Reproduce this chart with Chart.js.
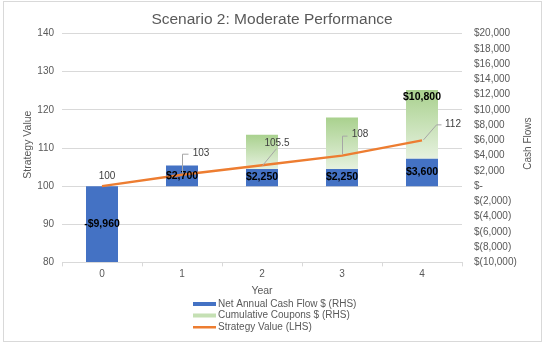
<!DOCTYPE html>
<html>
<head>
<meta charset="utf-8">
<script src="https://cdn.jsdelivr.net/npm/chart.js@4"></script>
<style>
  html, body { margin: 0; padding: 0; background: #fff; }
  #wrap { width: 544px; height: 345px; position: relative; }
</style>
</head>
<body>
<div id="wrap"><canvas id="grafico"></canvas></div>
<script>
// dados do gráfico
const years = ['0', '1', '2', '3', '4'];
const netCashFlow = [-9960, 2700, 2250, 2250, 3600];
const cumulativeCoupons = [0, 0, 4500, 6750, 9000];
const strategyValue = [100, 103, 105.5, 108, 112];
const couponLabels = ['', '', '', '', '$10,800'];
const leftTicks = [80, 90, 100, 110, 120, 130, 140];
const rightTicks = [-10000, -8000, -6000, -4000, -2000, 0, 2000, 4000, 6000, 8000, 10000, 12000, 14000, 16000, 18000, 20000];
const legendItems = ['Net Annual Cash Flow $ (RHS)', 'Cumulative Coupons $ (RHS)', 'Strategy Value (LHS)'];

const FONT = '"Liberation Sans", Arial, sans-serif';
const GREY = '#595959';

function fmtAxis(v) {
    if (v === 0) return '$-';
    const s = Math.abs(v).toLocaleString('en-US');
    return v < 0 ? '$(' + s + ')' : '$' + s;
}
function fmtBar(v) {
    const s = Math.abs(v).toLocaleString('en-US');
    return (v < 0 ? '-$' : '$') + s;
}

// posição dos rótulos da linha (relativo ao ponto) e linhas-guia
const lineLabelPos = [
    { dx: 5, dy: -10, leader: null },
    { dx: 19, dy: -21, leader: [[0, -2], [0, -21], [6, -21]] },
    { dx: 15, dy: -22, leader: [[0, 0], [14, -17]] },
    { dx: 18, dy: -21, leader: [[0, -2], [0, -20], [5, -20]] },
    { dx: 31, dy: -16, leader: [[1, -1], [14, -16], [19, -16]] }
];

const extras = {
    id: 'extras',
    beforeDraw(chart) {
        const c = chart.ctx;
        c.save();
        c.fillStyle = '#fff';
        c.fillRect(0, 0, chart.width, chart.height);
        c.strokeStyle = '#d9d9d9';
        c.lineWidth = 1;
        c.strokeRect(3.5, 1.5, 538, 340);
        c.restore();
    },
    afterDatasetsDraw(chart) {
        const c = chart.ctx;
        c.save();
        c.textAlign = 'center';
        c.textBaseline = 'middle';

        // rótulos das barras azuis
        const blue = chart.getDatasetMeta(0);
        c.font = 'bold 10.5px ' + FONT;
        c.fillStyle = '#000';
        blue.data.forEach((bar, i) => {
            c.fillText(fmtBar(netCashFlow[i]), bar.x, (bar.y + bar.base) / 2);
        });

        // rótulos das barras verdes
        const green = chart.getDatasetMeta(1);
        green.data.forEach((bar, i) => {
            if (couponLabels[i]) c.fillText(couponLabels[i], bar.x, bar.y + 7);
        });

        // rótulos da linha
        const line = chart.getDatasetMeta(2);
        c.font = '10px ' + FONT;
        line.data.forEach((pt, i) => {
            const p = lineLabelPos[i];
            if (p.leader) {
                c.strokeStyle = '#a6a6a6';
                c.lineWidth = 1;
                c.beginPath();
                p.leader.forEach((o, k) => {
                    const x = pt.x + o[0] + 0.5, y = pt.y + o[1] + 0.5;
                    if (k === 0) c.moveTo(x, y); else c.lineTo(x, y);
                });
                c.stroke();
            }
            c.fillStyle = '#404040';
            c.fillText(String(strategyValue[i]), pt.x + p.dx, pt.y + p.dy);
        });
        c.restore();
    },
    afterDraw(chart) {
        const c = chart.ctx;
        const a = chart.chartArea;
        c.save();
        c.fillStyle = GREY;
        c.textBaseline = 'middle';
        c.textAlign = 'center';

        // títulos dos eixos verticais (ambos lidos de baixo para cima)
        c.font = '10.5px ' + FONT;
        c.save();
        c.translate(28, a.top + 111);
        c.rotate(-Math.PI / 2);
        c.fillText('Strategy Value', 0, 0);
        c.restore();
        c.font = '10px ' + FONT;
        c.save();
        c.translate(528, a.top + 110);
        c.rotate(-Math.PI / 2);
        c.fillText('Cash Flows', 0, 0);
        c.restore();

        // legenda vertical
        const x0 = 193, y0 = 304, step = 11.5;
        c.textAlign = 'left';
        legendItems.forEach((txt, i) => {
            const y = y0 + i * step;
            if (i === 0) { c.fillStyle = '#4472C4'; c.fillRect(x0, y - 2, 23, 4); }
            if (i === 1) { c.fillStyle = '#c5e0b4'; c.fillRect(x0, y - 2, 23, 4); }
            if (i === 2) { c.fillStyle = '#ED7D31'; c.fillRect(x0, y - 1, 23, 2.5); }
            c.fillStyle = GREY;
            c.fillText(txt, x0 + 25, y);
        });
        c.restore();
    }
};

function greenFill(ctx) {
    const chart = ctx.chart;
    if (!chart.chartArea || ctx.type !== 'data') return '#c5e0b4';
    const y1 = chart.scales.y1;
    const i = ctx.dataIndex;
    const base = Math.max(0, netCashFlow[i]);
    const top = y1.getPixelForValue(base + cumulativeCoupons[i]);
    const bottom = y1.getPixelForValue(base);
    const g = chart.ctx.createLinearGradient(0, top, 0, bottom + 0.01);
    g.addColorStop(0, '#a9d18e');
    g.addColorStop(1, '#e6f1df');
    return g;
}

new Chart(document.getElementById('grafico'), {
    type: 'bar',
    data: {
        labels: years,
        datasets: [
            {
                label: legendItems[0],
                data: netCashFlow,
                backgroundColor: '#4472C4',
                yAxisID: 'y1',
                order: 2,
                barPercentage: 0.4,
                categoryPercentage: 1
            },
            {
                label: legendItems[1],
                data: cumulativeCoupons,
                backgroundColor: greenFill,
                yAxisID: 'y1',
                order: 3,
                barPercentage: 0.4,
                categoryPercentage: 1
            },
            {
                type: 'line',
                label: legendItems[2],
                data: strategyValue,
                borderColor: '#ED7D31',
                borderWidth: 2.5,
                pointRadius: 0,
                tension: 0,
                yAxisID: 'y',
                order: 1
            }
        ]
    },
    options: {
        responsive: true,
        maintainAspectRatio: false,
        animation: false,
        layout: { padding: { left: 21, right: 21, top: 0, bottom: 48 } },
        plugins: {
            legend: { display: false },
            tooltip: { enabled: false },
            title: {
                display: true,
                text: 'Scenario 2: Moderate Performance',
                color: GREY,
                font: { family: FONT, size: 15.5, weight: 'normal' },
                padding: { top: 10, bottom: 5 }
            }
        },
        scales: {
            x: {
                stacked: true,
                grid: { display: true, drawOnChartArea: false, offset: true, tickLength: 4, color: '#d9d9d9' },
                border: { color: '#d9d9d9' },
                ticks: { color: GREY, font: { family: FONT, size: 10 }, padding: 2 },
                title: { display: true, text: 'Year', color: GREY, font: { family: FONT, size: 10.5 }, padding: { top: 2, bottom: 0 } }
            },
            y: {
                position: 'left',
                min: 80,
                max: 140,
                afterBuildTicks: s => { s.ticks = leftTicks.map(v => ({ value: v })); },
                afterFit: s => { s.width = 41; },
                grid: { color: '#d9d9d9', drawTicks: false },
                border: { display: false },
                ticks: { color: GREY, font: { family: FONT, size: 10 }, padding: 8, autoSkip: false }
            },
            y1: {
                position: 'right',
                stacked: true,
                min: -10000,
                max: 20000,
                afterBuildTicks: s => { s.ticks = rightTicks.map(v => ({ value: v })); },
                afterFit: s => { s.width = 61; },
                grid: { display: false, drawTicks: false },
                border: { display: false },
                ticks: { color: GREY, font: { family: FONT, size: 10 }, padding: 12, autoSkip: false, callback: v => fmtAxis(v) }
            }
        }
    },
    plugins: [extras]
});
</script>
</body>
</html>
